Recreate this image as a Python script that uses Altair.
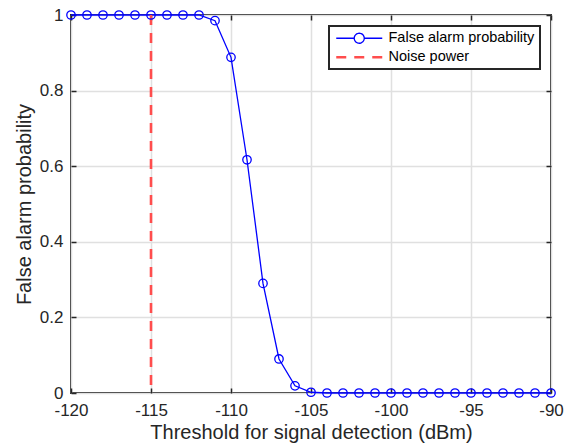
import altair as alt
import pandas as pd

# ---- data ----
thresholds = [-120, -119, -118, -117, -116, -115, -114, -113, -112, -111,
              -110, -109, -108, -107, -106, -105, -104, -103, -102, -101,
              -100, -99, -98, -97, -96, -95, -94, -93, -92, -91, -90]
false_alarm = [1, 1, 1, 1, 1, 1, 1, 1, 1, 0.985,
               0.888, 0.617, 0.29, 0.09, 0.019, 0.002, 0, 0, 0, 0,
               0, 0, 0, 0, 0, 0, 0, 0, 0, 0, 0]
noise_power = [-115]
series_names = ["False alarm probability", "Noise power"]
x_ticks = [-120, -115, -110, -105, -100, -95, -90]
y_ticks = [0, 0.2, 0.4, 0.6, 0.8, 1]

df = pd.DataFrame({"x": thresholds, "y": false_alarm, "series": series_names[0]})
noise_df = pd.DataFrame({"x": noise_power, "series": [series_names[1]]})

W, H = 480, 378
FONT = "Liberation Sans"
DARK = "#262626"
BLUE = "#0000ff"
RED = "#ff4d4d"

xs = alt.Scale(domain=[-120, -90], nice=False, zero=False)
ys = alt.Scale(domain=[0, 1], nice=False, zero=False)

# legend symbols (unit = 5 px with symbolSize 100); span 46 px from the left of the symbol box
line_path = "M-1,0L2.6,0M4.6,0L8.2,0M2.6,0A1,1,0,1,0,4.6,0A1,1,0,1,0,2.6,0"
dash_path = "M-1,0L8.2,0"

color_s = alt.Scale(domain=series_names, range=[BLUE, RED])
dash_s = alt.Scale(domain=series_names, range=[[1, 0], [10, 8]])
shape_s = alt.Scale(domain=series_names, range=[line_path, dash_path])
sw_s = alt.Scale(domain=series_names, range=[1.3, 2.6])


def tick_axis(orient, offset, values):
    return alt.Axis(orient=orient, offset=offset, values=values, labels=False,
                    title=None, grid=False, domain=False, ticks=True,
                    tickSize=5, tickColor=DARK, tickWidth=1.5)


base = alt.Chart(df)

line = base.mark_line(color=BLUE, strokeWidth=1.3).encode(
    x=alt.X("x:Q", scale=xs,
            axis=alt.Axis(values=x_ticks, title="Threshold for signal detection (dBm)",
                          grid=True, ticks=False, tickSize=0, domain=False,
                          labelPadding=9, titlePadding=4, labelFlush=False,
                          labelOverlap=False, labelExpr="toString(datum.value)")),
    y=alt.Y("y:Q", scale=ys,
            axis=alt.Axis(values=y_ticks, title="False alarm probability",
                          grid=True, ticks=False, tickSize=0, domain=False,
                          labelPadding=8, titlePadding=5, labelFlush=False,
                          labelOverlap=False, labelExpr="toString(datum.value)")),
)

points = base.mark_point(shape="circle", filled=False, color=BLUE, size=71,
                         strokeWidth=1.3, opacity=1).encode(
    x=alt.X("x:Q", scale=xs, axis=tick_axis("top", -H, x_ticks)),
    y=alt.Y("y:Q", scale=ys, axis=tick_axis("right", -W, y_ticks)),
)

rule = alt.Chart(noise_df).mark_rule().encode(
    x=alt.X("x:Q", scale=xs, axis=tick_axis("bottom", -H, x_ticks)),
    color=alt.Color("series:N", scale=color_s, legend=alt.Legend(title=None)),
    strokeDash=alt.StrokeDash("series:N", scale=dash_s, legend=alt.Legend(title=None)),
    strokeWidth=alt.StrokeWidth("series:N", scale=sw_s, legend=alt.Legend(title=None)),
)

legend_layer = base.mark_point(size=0, filled=False, opacity=1).encode(
    x=alt.X("x:Q", scale=xs, axis=None),
    y=alt.Y("y:Q", scale=ys, axis=tick_axis("left", -W, y_ticks)),
    color=alt.Color("series:N", scale=color_s, legend=alt.Legend(title=None)),
    shape=alt.Shape("series:N", scale=shape_s, legend=alt.Legend(title=None)),
    strokeDash=alt.StrokeDash("series:N", scale=dash_s, legend=alt.Legend(title=None)),
    strokeWidth=alt.StrokeWidth("series:N", scale=sw_s, legend=alt.Legend(title=None)),
)

chart = alt.layer(line, rule, points, legend_layer).resolve_axis(
    x="independent", y="independent"
).properties(
    width=W, height=H,
    autosize=alt.AutoSizeParams(type="none"),
    padding={"left": 71, "top": 15, "right": 20, "bottom": 53},
    background="white",
).configure_view(
    stroke=DARK, strokeWidth=2, fill="white"
).configure_axis(
    labelFont=FONT, labelFontSize=17, labelColor=DARK,
    titleFont=FONT, titleFontSize=20, titleFontWeight="normal", titleColor=DARK,
    gridColor="#e0e0e0", gridWidth=1.5, gridOpacity=1,
).configure_legend(
    orient="top-right", offset=11, padding=5, rowPadding=3,
    labelFont=FONT, labelFontSize=14.5, labelColor="black", labelOffset=40,
    symbolSize=100, symbolFillColor="white", symbolOffset=0,
    strokeColor=DARK, strokeWidth=2, fillColor="white", cornerRadius=0,
)

chart.save("out.html", embed_options={"renderer": "svg", "actions": False})
